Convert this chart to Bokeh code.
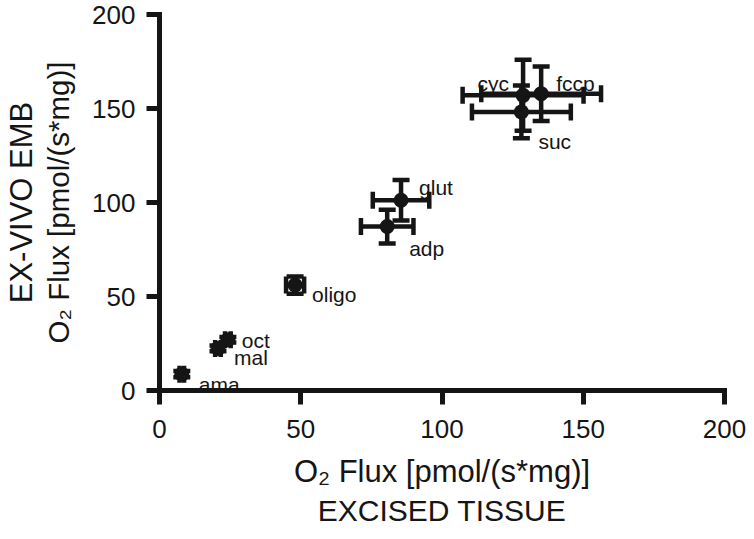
from bokeh.plotting import figure
from bokeh.models import ColumnDataSource, Whisker, TeeHead, FixedTicker, Title, Range1d
from bokeh.core.properties import value
from bokeh.embed import file_html
from bokeh.resources import INLINE

# ---- data ----
conditions = ["cyc", "fccp", "suc", "glut", "adp", "oligo", "oct", "mal", "ama"]
excised = [128.7, 135.1, 128.1, 85.5, 80.6, 48.0, 24.2, 20.7, 7.9]
excised_sem = [21.4, 21.2, 17.5, 10.0, 9.3, 3.2, 1.0, 1.0, 0.8]
exvivo = [157.0, 157.9, 148.2, 101.2, 87.2, 56.1, 27.0, 22.4, 8.7]
exvivo_sem = [18.9, 14.5, 14.0, 10.8, 9.0, 4.6, 1.5, 1.5, 1.7]
ticks = [0, 50, 100, 150, 200]

# label placement (screen pixels relative to each point)
label_dx = [-14, 15, 17, 18, 22, 17, 14, 16, 17]
label_dy = [-12, -10, 30, -13, 22, 9, 1, 9, 10]
label_align = ["right", "left", "left", "left", "left", "left", "left", "left", "left"]

INK = "#151515"
FONT = "Liberation Sans"

src = ColumnDataSource(dict(
    x=excised, y=exvivo,
    xl=[a - b for a, b in zip(excised, excised_sem)],
    xu=[a + b for a, b in zip(excised, excised_sem)],
    yl=[a - b for a, b in zip(exvivo, exvivo_sem)],
    yu=[a + b for a, b in zip(exvivo, exvivo_sem)],
    label=conditions, dx=label_dx, dy=label_dy, align=label_align,
))

W, H = 746, 531
BL, BR, BT, BB = 159, 22, 14, 141
p = figure(width=W, height=H,
           x_range=Range1d(0, 200), y_range=Range1d(0, 200),
           output_backend="svg", toolbar_location=None,
           min_border_left=BL, min_border_right=BR,
           min_border_top=BT, min_border_bottom=BB)
p.outline_line_color = None
p.grid.visible = False
p.background_fill_color = "white"
p.border_fill_color = "white"

label_text = "O\u2082 Flux [pmol/(s*mg)]"
for ax in (p.xaxis[0], p.yaxis[0]):
    ax.ticker = FixedTicker(ticks=ticks)
    ax.axis_line_width = 5
    ax.axis_line_color = INK
    ax.axis_line_cap = "square"
    ax.major_tick_line_width = 5
    ax.major_tick_line_color = INK
    ax.major_tick_in = 0
    ax.minor_tick_line_color = None
    ax.major_label_text_font = FONT
    ax.major_label_text_font_size = "26px"
    ax.major_label_text_color = INK
    ax.axis_label = label_text
    ax.axis_label_text_font = FONT
    ax.axis_label_text_font_style = "normal"
    ax.axis_label_text_color = INK

p.xaxis.axis_label_text_font_size = "31px"
p.yaxis.axis_label_text_font_size = "29.5px"
p.xaxis.major_tick_out = 14
p.yaxis.major_tick_out = 13
p.xaxis.major_label_standoff = 15
p.yaxis.major_label_standoff = 11
p.xaxis.axis_label_standoff = 13
p.yaxis.axis_label_standoff = 14

for base, lo, hi, dim in (("y", "xl", "xu", "width"), ("x", "yl", "yu", "height")):
    p.add_layout(Whisker(source=src, base=base, lower=lo, upper=hi, dimension=dim,
                         line_width=4.5, line_color=INK,
                         upper_head=TeeHead(size=17, line_width=4.5, line_color=INK),
                         lower_head=TeeHead(size=17, line_width=4.5, line_color=INK)))

p.scatter("x", "y", source=src, size=15, fill_color=INK, line_color=INK, line_width=0)

p.text(x="x", y="y", text="label", x_offset="dx", y_offset="dy",
       text_align="align", text_baseline="alphabetic",
       text_font=value(FONT), text_font_size="21px", text_color=INK, source=src)

p.add_layout(Title(text="EX-VIVO EMB", align="center", text_font=FONT,
                   text_font_size="31px", text_font_style="normal",
                   text_color=INK, standoff=2), "left")
p.add_layout(Title(text="EXCISED TISSUE", align="center", text_font=FONT,
                   text_font_size="30px", text_font_style="normal",
                   text_color=INK, standoff=1), "below")

open("out.html", "w").write(file_html(p, INLINE))
